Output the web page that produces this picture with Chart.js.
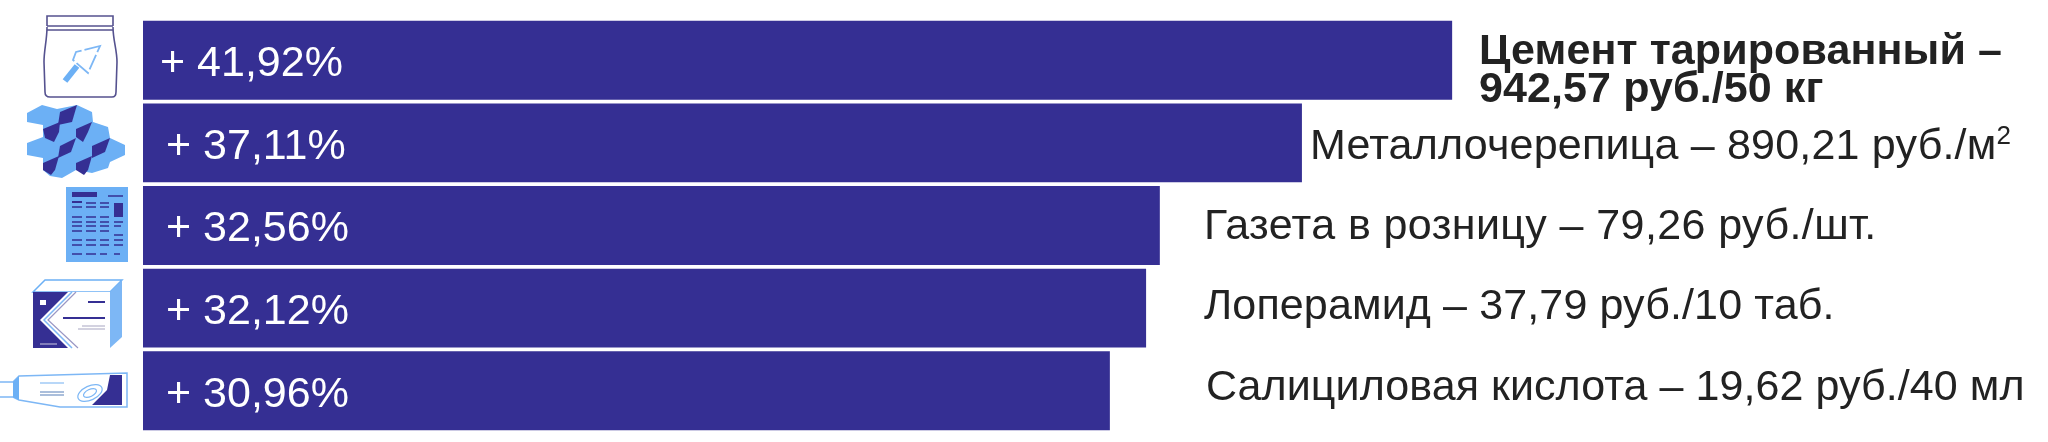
<!DOCTYPE html>
<html lang="ru">
<head>
<meta charset="utf-8">
<title>Рост цен</title>
<script src="https://cdn.jsdelivr.net/npm/chart.js@4"></script>
<style>
  html, body { margin: 0; background: #fff; overflow: hidden; }
  #wrap { position: relative; width: 2048px; height: 442px; }
  #priceChart, #icons { position: absolute; left: 0; top: 0; }
</style>
</head>
<body>
<div id="wrap">
<canvas id="priceChart" width="2048" height="442"></canvas>
<svg id="icons" width="2048" height="442" viewBox="0 0 2048 442">
  <!-- bag -->
  <g fill="none" stroke="#55528f" stroke-width="1.6">
    <path d="M47 26 L47 16 L113 16 L113 26"/>
    <path d="M47 26 L113 26 M47 30 L113 30"/>
    <path d="M47 27 C47 40 44 50 44 62 L45 92 Q45 97 50 97 L112 97 Q116 97 116 92 L117 62 C117 50 113 40 113 27"/>
  </g>
  <path d="M100 46 L76 52 L73 60 L88 73 Z" fill="none" stroke="#7db7f5" stroke-width="1.8" stroke-dasharray="16 3"/>
  <path d="M77 66 L65 81" stroke="#6cb0f5" stroke-width="6" fill="none"/>
  <!-- tiles -->
  <polygon fill="#6cb0f5" points="27,113 42,105 57,109 77,105 92,112 93,122 108,127 110,138 125,145 125,155 110,162 108,168 92,173 76,170 62,178 50,176 43,170 43,158 27,155 27,143 43,137 43,125 27,122"/>
  <g fill="#352f93">
    <polygon points="60,112 77,105 72,122 58,125"/>
    <polygon points="43,129 60,122 59,132 54,142 45,138"/>
    <polygon points="76,129 92,122 88,132 83,142 76,137"/>
    <polygon points="60,146 76,138 71,152 58,158"/>
    <polygon points="92,146 110,138 105,152 92,158"/>
    <polygon points="43,163 59,156 55,170 51,175 43,170"/>
    <polygon points="76,163 92,156 88,170 84,175 76,170"/>
  </g>
  <!-- newspaper -->
  <rect x="66" y="187" width="62" height="75" fill="#6cb0f5"/>
  <path fill="#352f93" d="M72 192h25v5h-25z M114 203h9v14h-9z M72 201h10v2h-10z"/>
  <path stroke="#352f93" stroke-width="1.7" fill="none" d="M108 196h15
    M72 207h10M86 207h10M100 207h9
    M86 203h10M100 203h9
    M72 217h10M86 217h10M100 217h9M114 222h9
    M72 222h10M86 222h10M100 222h9
    M72 226h10M86 226h10M100 226h9M114 226h7
    M72 231h10M86 231h10M100 231h9
    M114 235h9M114 240h9
    M72 240h10M86 240h10M100 240h9
    M72 245h10M86 245h10M100 245h9M114 245h9
    M72 254h10M86 254h10M100 254h7M114 254h6"/>
  <!-- box -->
  <polygon points="33,292 45,280 122,280 110,292" fill="#fff" stroke="#6cb0f5" stroke-width="1.5"/>
  <polygon points="110,292 122,280 122,337 110,348" fill="#7db7f5"/>
  <polygon points="33,292 110,292 110,348 33,348" fill="#fff"/>
  <polygon points="33,292 68,292 40,320 68,348 33,348" fill="#352f93"/>
  <path d="M72 292 L44 320 L72 348" fill="none" stroke="#7db7f5" stroke-width="1.5"/>
  <path d="M76 292 L48 320 L78 348" fill="none" stroke="#9a97c4" stroke-width="1.2"/>
  <rect x="40" y="300" width="6" height="5" fill="#fff"/>
  <path d="M88 302h17 M63 318h42" stroke="#352f93" stroke-width="2.2"/>
  <path d="M82 326h23 M78 329h27" stroke="#a8a6c2" stroke-width="1.2"/>
  <path d="M40 344h17" stroke="#b5b3d6" stroke-width="1.2"/>
  <!-- tube -->
  <path d="M0 382 L13 382 L19 376 L127 373 L127 407 L60 407 L19 400 L13 397 L0 397" fill="#fff" stroke="#7db7f5" stroke-width="1.5"/>
  <path d="M13 382 L19 376 L19 400 L13 397 Z" fill="#6cb0f5"/>
  <polygon points="110,375 122,375 122,405 92,405 107,390" fill="#352f93"/>
  <path d="M40 383h24" stroke="#9ac6f5" stroke-width="1.4"/>
  <path d="M40 392h24 M40 395h24" stroke="#8fa9cf" stroke-width="1.4"/>
  <g fill="none" stroke="#7db7f5" stroke-width="1.2">
    <ellipse cx="90" cy="393" rx="13" ry="7" transform="rotate(-25 90 393)"/>
    <ellipse cx="90" cy="393" rx="7" ry="3.5" transform="rotate(-25 90 393)"/>
  </g>
</svg>
</div>
<script>
const categories = ["Цемент", "Металлочерепица", "Газета", "Лоперамид", "Салициловая кислота"];
const growth = [41.92, 37.11, 32.56, 32.12, 30.96];
const growthLabels = ["+ 41,92%", "+ 37,11%", "+ 32,56%", "+ 32,12%", "+ 30,96%"];
const priceLabels = [
  ["Цемент тарированный –", "942,57 руб./50 кг"],
  ["Металлочерепица – 890,21 руб./м"],
  ["Газета в розницу – 79,26 руб./шт."],
  ["Лоперамид – 37,79 руб./10 таб."],
  ["Салициловая кислота – 19,62 руб./40 мл"]
];
const priceSuper = ["", "2", "", "", ""];

// where the text sits
const growthLabelX = [160, 166, 166, 166, 166];
const priceLabelX = [1479, 1310, 1204, 1204, 1206];
const priceLabelDy = [4, 16, 13, 11, 9];
const priceSpacing = ["0.1px", "0.2px", "0.4px", "0.13px", "0.07px"];

const rowLabels = {
  id: "rowLabels",
  afterDatasetsDraw(chart) {
    const ctx = chart.ctx;
    const y = chart.scales.y;
    ctx.save();
    ctx.textAlign = "left";
    growthLabels.forEach((text, i) => {
      ctx.letterSpacing = "0px";
      ctx.font = "43px 'Liberation Sans'";
      ctx.fillStyle = "#ffffff";
      ctx.textBaseline = "middle";
      ctx.fillText(text, growthLabelX[i], y.getPixelForValue(i) + 4);

      ctx.textBaseline = "alphabetic";
      ctx.fillStyle = "#222222";
      ctx.font = (i === 0 ? "bold " : "") + "43px 'Liberation Sans'";
      ctx.letterSpacing = priceSpacing[i];
      priceLabels[i].forEach((line, k) => {
        ctx.fillText(line, priceLabelX[i], y.getPixelForValue(i) + priceLabelDy[i] + k * 39 - (i === 0 ? k : 0));
      });
      if (priceSuper[i]) {
        const w = ctx.measureText(priceLabels[i][0]).width;
        ctx.font = "26px 'Liberation Sans'";
        ctx.fillText(priceSuper[i], priceLabelX[i] + w, y.getPixelForValue(i) + priceLabelDy[i] - 15);
      }
    });
    ctx.restore();
  }
};

new Chart(document.getElementById("priceChart"), {
  type: "bar",
  data: {
    labels: categories,
    datasets: [{
      data: growth,
      backgroundColor: "#352f93",
      barPercentage: 0.955,
      categoryPercentage: 1
    }]
  },
  options: {
    indexAxis: "y",
    responsive: false,
    animation: false,
    layout: { padding: { left: 143, right: 0, top: 19, bottom: 10 } },
    plugins: { legend: { display: false }, tooltip: { enabled: false } },
    scales: {
      x: { display: false, min: 0, max: 61 },
      y: { display: false }
    }
  },
  plugins: [rowLabels]
});
</script>
</body>
</html>
